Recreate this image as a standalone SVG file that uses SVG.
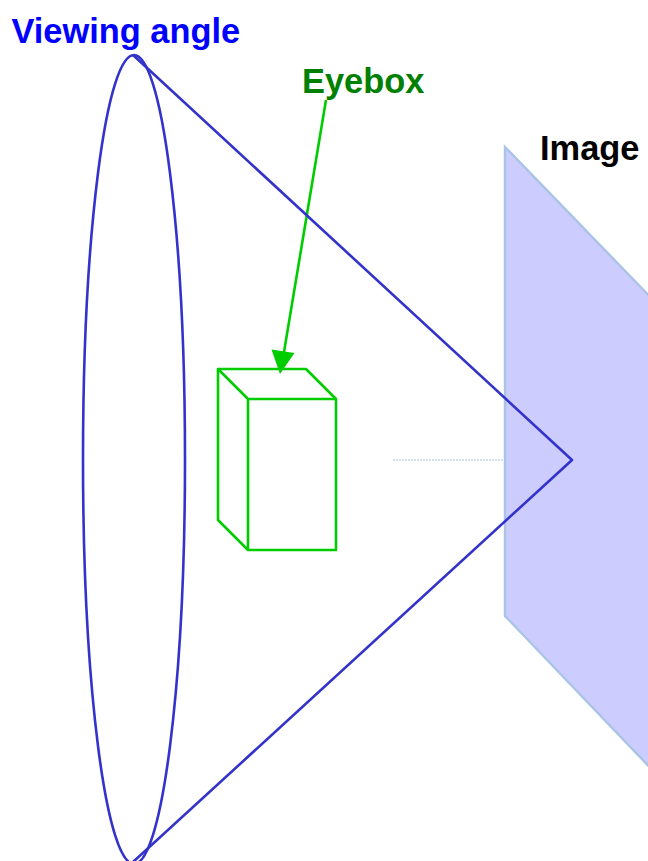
<svg xmlns="http://www.w3.org/2000/svg" width="648" height="861" viewBox="0 0 648 861">
<style>
.t{font-family:"Liberation Sans",Arial,sans-serif;font-weight:700;font-size:34.4px}
.b{fill:none;stroke:#00cc00;stroke-width:2.6;stroke-linejoin:round}
.c{fill:none;stroke:#3333cc;stroke-width:2.6;stroke-linejoin:round}
</style>
<rect width="648" height="861" fill="#fff"/>
<g id="image-plane"><polygon points="505,147 660,307 660,778 505,616" fill="#ccccff" stroke="#a9c4e4" stroke-width="2.4"/></g>
<g id="connectors">
<line x1="393" y1="460" x2="505" y2="460" stroke="#a9c4e4" stroke-width="1.2" stroke-dasharray="2 1"/>
<line x1="326" y1="100" x2="284" y2="352" stroke="#00cc00" stroke-width="2.6"/>
<polygon points="271.5,349.5 294.5,353 280,374" fill="#00cc00"/>
</g>
<g id="viewing-cone">
<ellipse cx="134" cy="459.5" rx="51" ry="404.5" class="c"/>
<path d="M133 55L572 460L133 862" class="c"/>
</g>
<g id="eyebox">
<path d="M218 369H306L336 399V550H248L218 520Z" class="b"/>
<path d="M218 369L248 399H336M248 399V550" class="b"/>
</g>
<g id="label-viewing-angle"><text class="t" x="11.5" y="42.5" fill="#0000ff">Viewing angle</text></g>
<g id="label-eyebox"><text class="t" x="302" y="92.5" fill="#008000">Eyebox</text></g>
<g id="label-image"><text class="t" x="540" y="160" fill="#000">Image</text></g>
</svg>
